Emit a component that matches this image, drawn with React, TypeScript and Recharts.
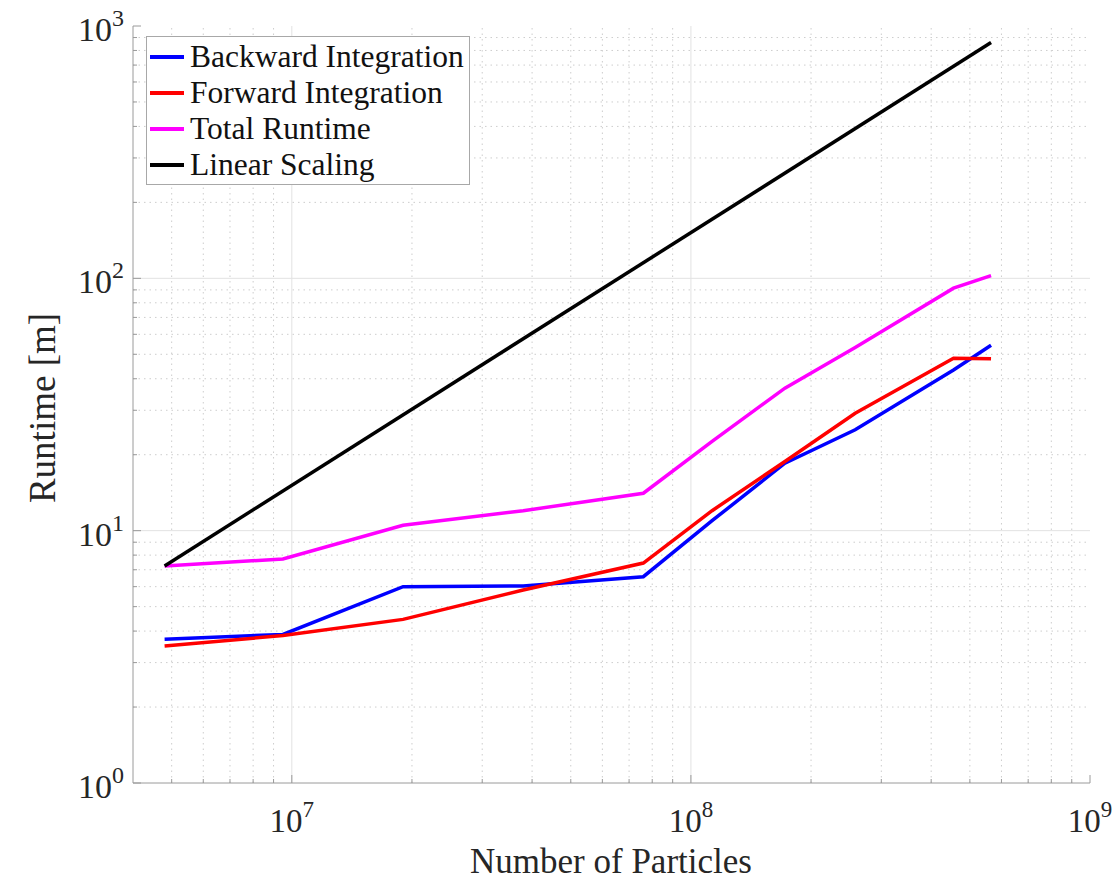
import React from 'react';
import { LineChart, Line, XAxis, YAxis, ReferenceLine, Legend } from 'recharts';

// Particle counts at which each run was timed
const particles = [4.8e6, 9.5e6, 1.9e7, 3.8e7, 7.6e7, 1.13e8, 1.72e8, 2.58e8, 4.55e8, 5.65e8];
// Runtimes in minutes
const backward = [3.71, 3.88, 6.0, 6.04, 6.57, 10.95, 18.5, 25.1, 43.3, 54.3];
const forward = [3.49, 3.84, 4.45, 5.82, 7.44, 12.0, 18.8, 29.2, 48.2, 48.0];
const total = [7.25, 7.72, 10.5, 12.0, 14.07, 22.6, 36.7, 53.2, 91.4, 102.5];
// Ideal linear scaling reference, anchored at the smallest run
const linearParticles = [4.8e6, 5.65e8];
const linearRuntime = [7.25, 860];

const seriesNames = ['Backward Integration', 'Forward Integration', 'Total Runtime', 'Linear Scaling'];
const seriesColors = ['#0000ff', '#ff0000', '#ff00ff', '#000000'];

// Axis ticks (log decades and their minor subdivisions)
const xMajor = [1e7, 1e8, 1e9];
const xMajorExp = ['7', '8', '9'];
const xMinor = [5e6, 6e6, 7e6, 8e6, 9e6, 2e7, 3e7, 4e7, 5e7, 6e7, 7e7, 8e7, 9e7, 2e8, 3e8, 4e8, 5e8, 6e8, 7e8, 8e8, 9e8];
const yMajor = [1, 10, 100, 1000];
const yMajorExp = ['0', '1', '2', '3'];
const yMinor = [2, 3, 4, 5, 6, 7, 8, 9, 20, 30, 40, 50, 60, 70, 80, 90, 200, 300, 400, 500, 600, 700, 800, 900];

const xDomain = [4e6, 1e9];
const yDomain = [1, 1000];

const FONT = "'Liberation Serif', 'DejaVu Serif', serif";
const AXIS = '#9a9a9a';
const TEXT = '#262626';
const MAJOR_LEN = 8;
const MINOR_LEN = 4;
const LINE_W = 3.5;

const toPoints = (xs: number[], ys: number[]) => xs.map((n, i) => ({ n, v: ys[i] }));

const xTicks = [...xMinor, ...xMajor].sort((a, b) => a - b);
const yTicks = [...yMinor, ...yMajor].sort((a, b) => a - b);

const BottomTick = (props: any) => {
  const { x, y, payload } = props;
  const idx = xMajor.indexOf(payload.value);
  const major = idx >= 0;
  return (
    <g>
      <line x1={x} x2={x} y1={y} y2={y - (major ? MAJOR_LEN : MINOR_LEN)} stroke={AXIS} strokeWidth={1} />
      {major && (
        <text x={x} y={y + 49} textAnchor="middle" fill={TEXT} fontFamily={FONT} fontSize={33}>
          10<tspan dy={-15} fontSize={23}>{xMajorExp[idx]}</tspan>
        </text>
      )}
    </g>
  );
};

const TopTick = (props: any) => {
  const { x, y, payload } = props;
  const major = xMajor.includes(payload.value);
  return <line x1={x} x2={x} y1={y} y2={y + (major ? MAJOR_LEN : MINOR_LEN)} stroke={AXIS} strokeWidth={1} />;
};

const LeftTick = (props: any) => {
  const { x, y, payload } = props;
  const idx = yMajor.indexOf(payload.value);
  const major = idx >= 0;
  return (
    <g>
      <line x1={x} x2={x + (major ? MAJOR_LEN : MINOR_LEN)} y1={y} y2={y} stroke={AXIS} strokeWidth={1} />
      {major && (
        <text x={x - 9} y={y + 15} textAnchor="end" fill={TEXT} fontFamily={FONT} fontSize={34}>
          10<tspan dy={-15} fontSize={24}>{yMajorExp[idx]}</tspan>
        </text>
      )}
    </g>
  );
};

const RightTick = (props: any) => {
  const { x, y, payload } = props;
  const major = yMajor.includes(payload.value);
  return <line x1={x} x2={x - (major ? MAJOR_LEN : MINOR_LEN)} y1={y} y2={y} stroke={AXIS} strokeWidth={1} />;
};

const LegendBox = (props: any) => {
  const items = [...(props.payload || [])].sort(
    (a: any, b: any) => seriesNames.indexOf(a.value) - seriesNames.indexOf(b.value)
  );
  return (
    <div
      style={{
        border: '1px solid #a8a8a8',
        background: '#ffffff',
        width: 324,
        height: 149,
        boxSizing: 'border-box',
        paddingTop: 2,
      }}
    >
      {items.map((entry: any) => (
        <div key={entry.value} style={{ display: 'flex', alignItems: 'center', height: 36 }}>
          <div style={{ width: 34, height: 3.5, background: entry.color, marginLeft: 3, marginRight: 6 }} />
          <span style={{ fontFamily: FONT, fontSize: 31.5, color: '#111', lineHeight: '36px', whiteSpace: 'nowrap' }}>
            {entry.value}
          </span>
        </div>
      ))}
    </div>
  );
};

export default function App() {
  return (
    <div style={{ width: 1112, height: 882, background: '#ffffff' }}>
      <style>{'body{margin:0;background:#ffffff;}'}</style>
      <LineChart width={1112} height={882} margin={{ top: 26, right: 22, left: 0, bottom: 0 }}>
        <XAxis
          xAxisId="bottom"
          dataKey="n"
          type="number"
          scale="log"
          domain={xDomain}
          allowDataOverflow
          ticks={xTicks}
          interval={0}
          height={99}
          tickSize={0}
          tickMargin={0}
          tickLine={false}
          axisLine={{ stroke: AXIS }}
          tick={<BottomTick />}
        />
        <XAxis
          xAxisId="top"
          orientation="top"
          dataKey="n"
          type="number"
          scale="log"
          domain={xDomain}
          allowDataOverflow
          ticks={xTicks}
          interval={0}
          height={0}
          tickSize={0}
          tickMargin={0}
          tickLine={false}
          axisLine={{ stroke: AXIS }}
          tick={<TopTick />}
        />
        <YAxis
          yAxisId="left"
          type="number"
          scale="log"
          domain={yDomain}
          allowDataOverflow
          ticks={yTicks}
          interval={0}
          width={133}
          tickSize={0}
          tickMargin={0}
          tickLine={false}
          axisLine={{ stroke: AXIS }}
          tick={<LeftTick />}
        />
        <YAxis
          yAxisId="right"
          orientation="right"
          type="number"
          scale="log"
          domain={yDomain}
          allowDataOverflow
          ticks={yTicks}
          interval={0}
          width={0}
          tickSize={0}
          tickMargin={0}
          tickLine={false}
          axisLine={{ stroke: AXIS }}
          tick={<RightTick />}
        />

        {xMinor.map((v) => (
          <ReferenceLine key={`xm${v}`} xAxisId="bottom" yAxisId="left" x={v} stroke="#cdcdcd" strokeDasharray="1.5 4" />
        ))}
        {yMinor.map((v) => (
          <ReferenceLine key={`ym${v}`} xAxisId="bottom" yAxisId="left" y={v} stroke="#cdcdcd" strokeDasharray="1.5 4" />
        ))}
        {xMajor.slice(0, 2).map((v) => (
          <ReferenceLine key={`xM${v}`} xAxisId="bottom" yAxisId="left" x={v} stroke="#e2e2e2" />
        ))}
        {yMajor.slice(1, 3).map((v) => (
          <ReferenceLine key={`yM${v}`} xAxisId="bottom" yAxisId="left" y={v} stroke="#e2e2e2" />
        ))}

        <Line xAxisId="bottom" yAxisId="left" data={toPoints(particles, backward)} dataKey="v" name={seriesNames[0]} stroke={seriesColors[0]} strokeWidth={LINE_W} dot={false} isAnimationActive={false} />
        <Line xAxisId="bottom" yAxisId="left" data={toPoints(particles, forward)} dataKey="v" name={seriesNames[1]} stroke={seriesColors[1]} strokeWidth={LINE_W} dot={false} isAnimationActive={false} />
        <Line xAxisId="bottom" yAxisId="left" data={toPoints(particles, total)} dataKey="v" name={seriesNames[2]} stroke={seriesColors[2]} strokeWidth={LINE_W} dot={false} isAnimationActive={false} />
        <Line xAxisId="bottom" yAxisId="left" data={toPoints(linearParticles, linearRuntime)} dataKey="v" name={seriesNames[3]} stroke={seriesColors[3]} strokeWidth={LINE_W} dot={false} isAnimationActive={false} />

        <Legend
          layout="vertical"
          align="center"
          verticalAlign="middle"
          content={<LegendBox />}
          wrapperStyle={{ left: 146, top: 36, width: 324, height: 149 }}
        />

        <text x={611} y={873} textAnchor="middle" fill={TEXT} fontFamily={FONT} fontSize={35}>
          Number of Particles
        </text>
        <text
          x={55}
          y={408}
          textAnchor="middle"
          fill={TEXT}
          fontFamily={FONT}
          fontSize={37}
          transform="rotate(-90, 55, 408)"
        >
          Runtime [m]
        </text>
      </LineChart>
    </div>
  );
}
